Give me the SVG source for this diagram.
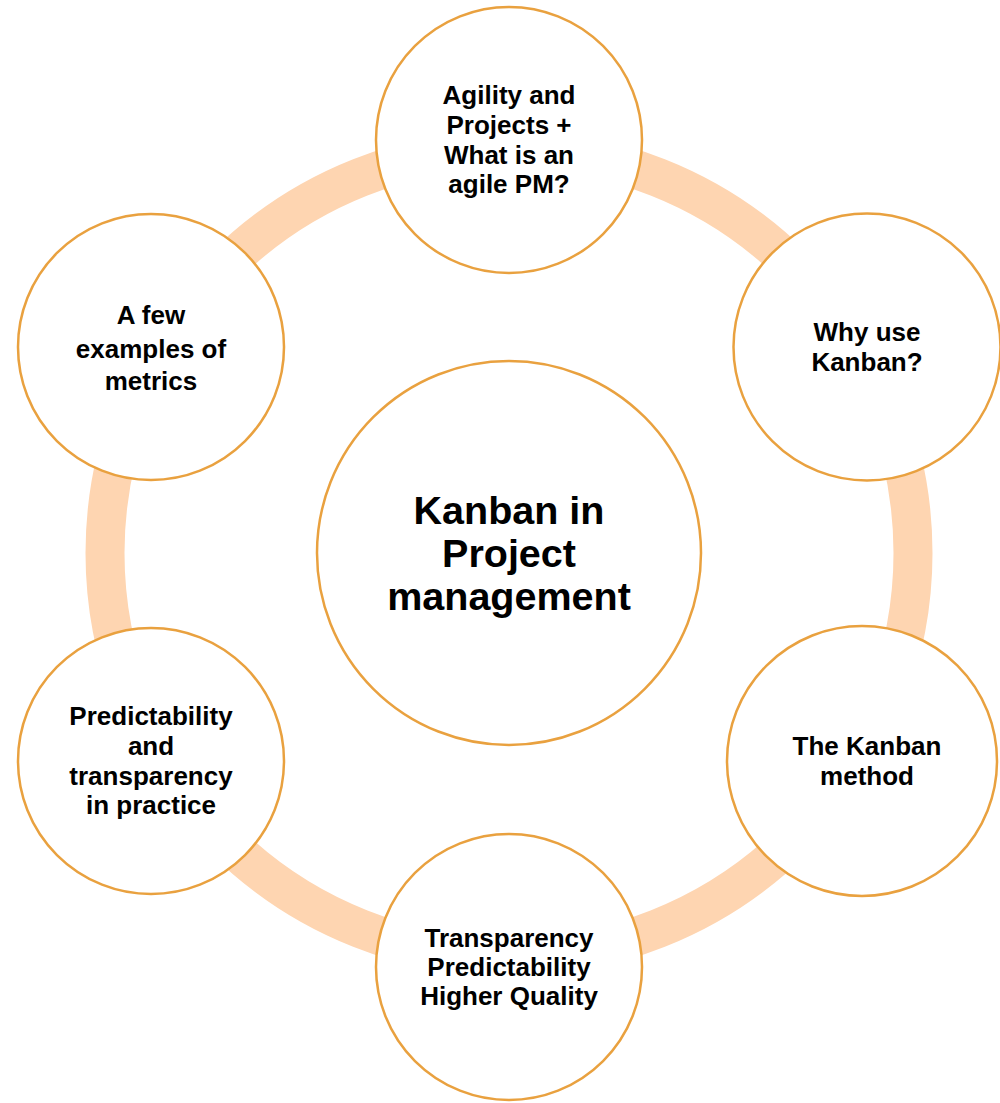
<svg xmlns="http://www.w3.org/2000/svg" width="1000" height="1103" viewBox="0 0 1000 1103">
  <style>
    .node { fill: #ffffff; stroke: #e9a13f; stroke-width: 2.5; }
    .lbl { font-family: "Liberation Sans", Arial, sans-serif; font-weight: 700; fill: #000000; text-anchor: middle; }
    .sm { font-size: 26px; }
    .lg { font-size: 39.5px; }
  </style>
  <rect width="1000" height="1103" fill="#ffffff"/>
  <g id="connectors">
    <circle cx="509" cy="553" r="404" fill="none" stroke="#fed5b1" stroke-width="39"/>
  </g>
  <g id="center">
    <circle class="node" cx="509" cy="553" r="192"/>
    <text class="lbl lg" x="509" y="524">Kanban in</text>
    <text class="lbl lg" x="509" y="567">Project</text>
    <text class="lbl lg" x="509" y="610">management</text>
  </g>
  <g id="agility">
    <circle class="node" cx="509" cy="140" r="133"/>
    <text class="lbl sm" x="509" y="104">Agility and</text>
    <text class="lbl sm" x="509" y="134">Projects +</text>
    <text class="lbl sm" x="509" y="164">What is an</text>
    <text class="lbl sm" x="509" y="193">agile PM?</text>
  </g>
  <g id="why-kanban">
    <circle class="node" cx="867" cy="347" r="133.5"/>
    <text class="lbl sm" x="867" y="341">Why use</text>
    <text class="lbl sm" x="867" y="371">Kanban?</text>
  </g>
  <g id="kanban-method">
    <circle class="node" cx="862" cy="761" r="135"/>
    <text class="lbl sm" x="867" y="755">The Kanban</text>
    <text class="lbl sm" x="867" y="785">method</text>
  </g>
  <g id="benefits">
    <circle class="node" cx="509" cy="967" r="133"/>
    <text class="lbl sm" x="509" y="947">Transparency</text>
    <text class="lbl sm" x="509" y="976">Predictability</text>
    <text class="lbl sm" x="509" y="1005">Higher Quality</text>
  </g>
  <g id="in-practice">
    <circle class="node" cx="151" cy="761" r="133"/>
    <text class="lbl sm" x="151" y="725">Predictability</text>
    <text class="lbl sm" x="151" y="755">and</text>
    <text class="lbl sm" x="151" y="785">transparency</text>
    <text class="lbl sm" x="151" y="814">in practice</text>
  </g>
  <g id="metrics">
    <circle class="node" cx="151" cy="347" r="133"/>
    <text class="lbl sm" x="151" y="324">A few</text>
    <text class="lbl sm" x="151" y="358">examples of</text>
    <text class="lbl sm" x="151" y="390">metrics</text>
  </g>
</svg>
